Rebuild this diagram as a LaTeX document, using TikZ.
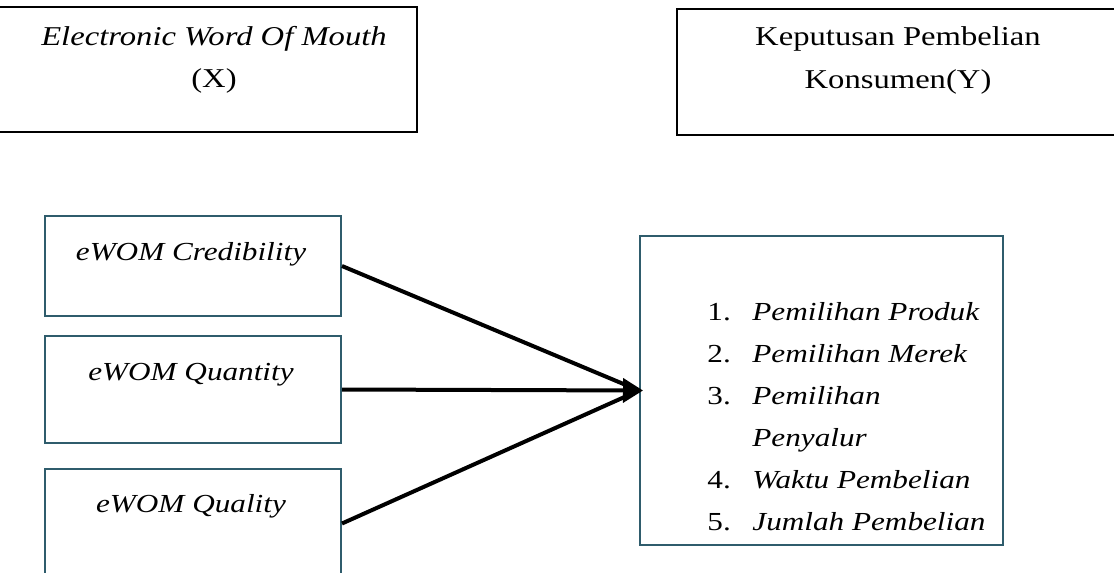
\documentclass[tikz,border=0pt]{standalone}
\usepackage{fontspec}
\setmainfont{Liberation Serif}[FakeStretch=1.2]
\usepackage{xcolor}
\usetikzlibrary{arrows.meta}
\definecolor{tealline}{RGB}{47,92,108}

\begin{document}
\begin{tikzpicture}[x=0.5pt, y=-0.5pt,
  topbox/.style={draw=black, line width=1.1pt, inner sep=0pt},
  subbox/.style={draw=tealline, line width=1pt, inner sep=0pt, minimum width=148pt},
  txt/.style={align=center, inner sep=0pt, anchor=base, font=\fontsize{13}{21}\selectfont},
  toptxt/.style={txt, font=\fontsize{13.6}{21}\selectfont},
  link/.style={line width=2pt}]
\useasboundingbox (0,0) rectangle (1114,573);

% variabel
\node[topbox, minimum width=213.5pt, minimum height=62.5pt] (X) at (203.5,69.5) {};
\node[topbox, minimum width=223.5pt, minimum height=63pt] (Y) at (900.5,72) {};
\node[toptxt] (Xtext) at (214,87) {\textit{Electronic Word Of Mouth}\\(X)};
\node[toptxt] (Ytext) at (898,88) {Keputusan Pembelian\\Konsumen(Y)};

% indikator X
\node[subbox, minimum height=50pt] (cred) at (193,266) {};
\node[subbox, minimum height=53.5pt] (quant) at (193,389.5) {};
\node[subbox, minimum height=60.5pt] (qual) at (193,529.5) {};
\node[txt] (credtext) at (191,260) {\textit{eWOM Credibility}};
\node[txt] (quanttext) at (191,380) {\textit{eWOM Quantity}};
\node[txt] (qualtext) at (191,512) {\textit{eWOM Quality}};

% indikator Y
\node[draw=tealline, line width=1pt, inner sep=0pt,
  minimum width=181.5pt, minimum height=154.5pt] (res) at (821.5,390.5) {};
\node[txt, align=left, anchor=base west] (items) at (707,530)
  {\makebox[22.5pt][l]{1.}\textit{Pemilihan Produk}\\
   \makebox[22.5pt][l]{2.}\textit{Pemilihan Merek}\\
   \makebox[22.5pt][l]{3.}\textit{Pemilihan}\\
   \makebox[22.5pt][l]{}\textit{Penyalur}\\
   \makebox[22.5pt][l]{4.}\textit{Waktu Pembelian}\\
   \makebox[22.5pt][l]{5.}\textit{Jumlah Pembelian}};

  \draw[link] (cred.east) -- (res.west);
  \draw[link, -{Triangle[length=10pt,width=12pt]}] (quant.east) -- ([xshift=2pt]res.west);
  \draw[link] ([yshift=3pt]qual.east) -- (res.west);
\end{tikzpicture}
\end{document}
